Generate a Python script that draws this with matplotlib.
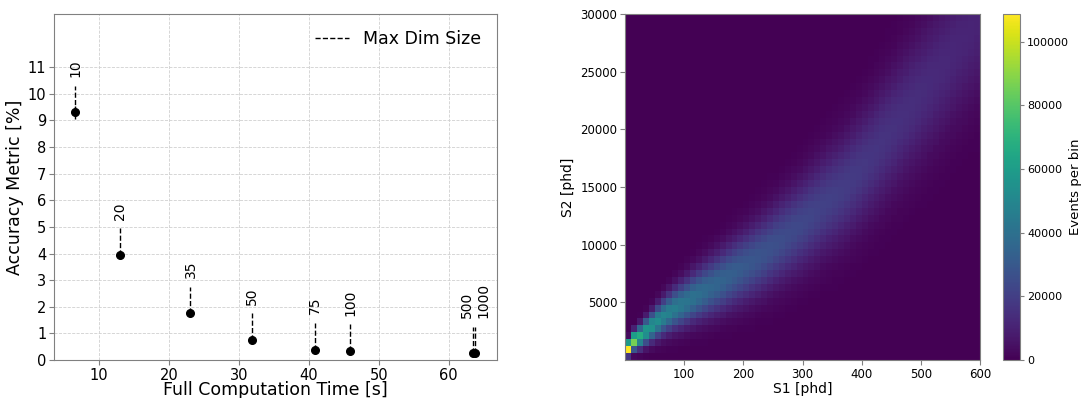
import numpy as np
import matplotlib
matplotlib.use("Agg")
import matplotlib.pyplot as plt

# ---------------- Left panel data ----------------
comp_time = [6.6, 13.1, 23.1, 31.9, 40.9, 45.9, 63.5, 63.7]
accuracy = [9.30, 3.95, 1.75, 0.75, 0.39, 0.34, 0.25, 0.25]
accuracy_err = [0.25, 0.04, 0.03, 0.02, 0.02, 0.02, 0.02, 0.02]
dim_labels = ["10", "20", "35", "50", "75", "100", "500", "1000"]
label_dx = [0, 0, 0, 0, 0, 0, -0.9, 1.2]

# ---------------- Right panel data ----------------
# per S1 column (10 phd wide, 0..600): band centre in S2, band width, peak counts
band_centre = [1050, 1650, 2000, 2450, 2900, 3350, 3750, 4100, 4450, 4750,
               5050, 5400, 5700, 6000, 6300, 6600, 6900, 7250, 7550, 7850,
               8150, 8500, 8850, 9200, 9600, 10000, 10400, 10800, 11200, 11600,
               12000, 12450, 12900, 13350, 13800, 14200, 14650, 15150, 15700, 16300,
               16900, 17500, 18100, 18750, 19400, 20050, 20700, 21350, 22000, 22650,
               23300, 23950, 24600, 25250, 25900, 26550, 27200, 27850, 28500, 29150]
band_width = [380, 500, 620, 720, 820, 920, 1000, 1080, 1160, 1240,
              1310, 1380, 1450, 1520, 1590, 1650, 1710, 1770, 1830, 1890,
              1950, 2010, 2070, 2130, 2190, 2250, 2310, 2370, 2430, 2490,
              2550, 2610, 2670, 2730, 2790, 2850, 2910, 2970, 3030, 3090,
              3150, 3210, 3270, 3330, 3390, 3450, 3510, 3570, 3630, 3690,
              3750, 3810, 3870, 3930, 3990, 4050, 4110, 4170, 4230, 4290]
band_peak = [117500, 90000, 68000, 60000, 56000, 53000, 50000, 48000, 46000, 44000,
             42000, 40500, 39000, 37500, 36000, 35000, 34000, 33000, 32000, 31000,
             30000, 29200, 28400, 27600, 26800, 26000, 25300, 24600, 24000, 23400,
             22800, 22200, 21600, 21000, 20500, 20000, 19500, 19000, 18500, 18000,
             17500, 17000, 16600, 16200, 15800, 15400, 15000, 14600, 14200, 13800,
             13400, 13000, 12600, 12300, 12000, 11700, 11400, 11100, 10800, 10500]

s1_edges = np.arange(0, 601, 10)
s2_edges = np.arange(0, 30001, 600)
s2_mid = 0.5 * (s2_edges[:-1] + s2_edges[1:])
c = np.array(band_centre)[None, :]
w = np.array(band_width)[None, :]
p = np.array(band_peak)[None, :]
counts = p * np.exp(-(s2_mid[:, None] - c) ** 2 / (2 * w ** 2))

# ---------------- Figure ----------------
fig = plt.figure(figsize=(10.83, 3.98), dpi=100)
spine_col = "#808080"

ax1 = fig.add_axes([54 / 1083, 38 / 398, 443 / 1083, 346 / 398])
ax1.grid(True, linestyle="--", linewidth=0.6, color="#d0d0d0")
ax1.set_axisbelow(True)
ax1.errorbar(comp_time, accuracy, yerr=accuracy_err, fmt="o", color="k",
             ms=5.5, elinewidth=1, capsize=0, zorder=3)
ax1.vlines(comp_time, accuracy, [a + 1.0 for a in accuracy], colors="k",
           linestyles="dashed", linewidth=1, label="Max Dim Size", zorder=2)
for x, y, lab, dx in zip(comp_time, accuracy, dim_labels, label_dx):
    ax1.text(x + dx, y + 1.32, lab, rotation=90, ha="center", va="bottom",
             fontsize=10)
ax1.set_xlim(3.6, 66.9)
ax1.set_ylim(0, 13)
ax1.set_yticks(range(0, 12))
ax1.set_xticks([10, 20, 30, 40, 50, 60])
ax1.tick_params(labelsize=10.5, color=spine_col, pad=2)
ax1.set_xlabel("Full Computation Time [s]", fontsize=12.5, labelpad=-1)
ax1.set_ylabel("Accuracy Metric [%]", fontsize=12.5, labelpad=3)
for s in ax1.spines.values():
    s.set_color(spine_col)
ax1.legend(loc="upper right", frameon=False, fontsize=12.5, handlelength=2.0)

ax2 = fig.add_axes([625 / 1083, 38 / 398, 355 / 1083, 346 / 398])
mesh = ax2.pcolormesh(s1_edges, s2_edges, counts, cmap="viridis",
                      vmin=0, vmax=counts.max())
ax2.set_xlim(0, 600)
ax2.set_ylim(0, 30000)
ax2.set_xticks([100, 200, 300, 400, 500, 600])
ax2.set_yticks([5000, 10000, 15000, 20000, 25000, 30000])
ax2.tick_params(labelsize=8.5, color=spine_col, pad=2)
ax2.set_xlabel("S1 [phd]", fontsize=10, labelpad=1)
ax2.set_ylabel("S2 [phd]", fontsize=10)
for s in ax2.spines.values():
    s.set_color(spine_col)

cax = fig.add_axes([1003 / 1083, 38 / 398, 17 / 1083, 346 / 398])
cb = fig.colorbar(mesh, cax=cax)
cb.set_ticks([0, 20000, 40000, 60000, 80000, 100000])
cb.ax.tick_params(labelsize=8, color=spine_col, length=3, pad=2)
cb.outline.set_edgecolor(spine_col)
cb.set_label("Events per bin", fontsize=9.5, labelpad=0)

fig.savefig("out.png", dpi=100)
